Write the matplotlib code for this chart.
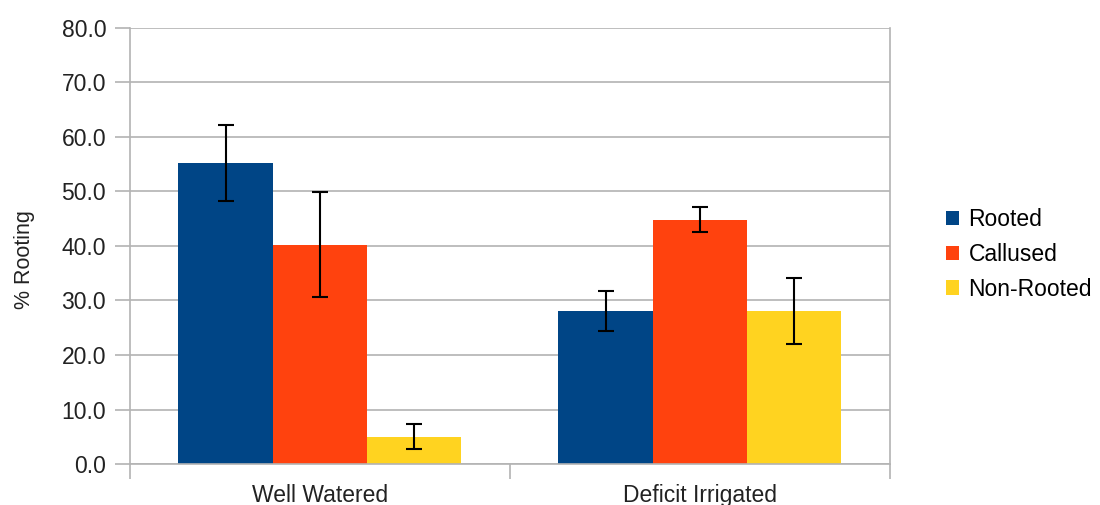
import numpy as np
import matplotlib.pyplot as plt

plt.rcParams['font.family'] = ['Liberation Sans', 'DejaVu Sans']

categories = ["Well Watered", "Deficit Irrigated"]
series = ["Rooted", "Callused", "Non-Rooted"]
rooted = [55.2, 28.1]
callused = [40.2, 44.8]
non_rooted = [5.0, 28.1]
rooted_err = [7.0, 3.7]
callused_err = [9.6, 2.3]
non_rooted_err = [2.3, 6.0]
yticks = [0, 10, 20, 30, 40, 50, 60, 70, 80]

values = [rooted, callused, non_rooted]
errors = [rooted_err, callused_err, non_rooted_err]
colors = ["#004586", "#ff420e", "#ffd320"]

fig = plt.figure(figsize=(11, 5.05), dpi=100)
ax = fig.add_axes([0.118, 0.081, 0.691, 0.864])

x = np.arange(len(categories))
width = 0.248
for i, (vals, errs, name) in enumerate(zip(values, errors, series)):
    ax.bar(x + (i - 1) * width, vals, width, color=colors[i], label=name, zorder=2,
           yerr=errs, capsize=6,
           error_kw=dict(ecolor="black", elinewidth=1.5, capthick=1.5, zorder=3))

ax.set_xlim(-0.5, 1.5)
ax.set_ylim(0, 80)
ax.set_yticks(yticks)
ax.set_yticklabels([f"{v:.1f}" for v in yticks], fontsize=16.5, color="#222222")
ax.set_xticks(x)
ax.set_xticklabels(categories, fontsize=16.5, color="#222222")
ax.set_xticks([-0.5, 0.5, 1.5], minor=True)
ax.tick_params(axis="x", which="major", length=0, pad=14)
ax.tick_params(axis="x", which="minor", length=11, color="#b3b3b3", width=1.2)
ax.tick_params(axis="y", length=11, color="#b3b3b3", width=1.2, pad=6)
ax.yaxis.grid(True, color="#b3b3b3", linewidth=1.2, zorder=0)
ax.set_axisbelow(True)
for side in ["left", "bottom", "right"]:
    ax.spines[side].set_color("#b3b3b3")
    ax.spines[side].set_linewidth(1.2)
ax.spines["top"].set_visible(False)
ax.set_ylabel("% Rooting", fontsize=15.5, color="#222222")
ax.yaxis.set_label_coords(-0.125, 0.468)

ax.legend(loc="center left", bbox_to_anchor=(1.062, 0.481), frameon=False,
          borderaxespad=0, fontsize=16.5, handlelength=0.57, handleheight=0.57,
          labelspacing=0.52, handletextpad=0.4)

fig.savefig("out.png", dpi=100)
